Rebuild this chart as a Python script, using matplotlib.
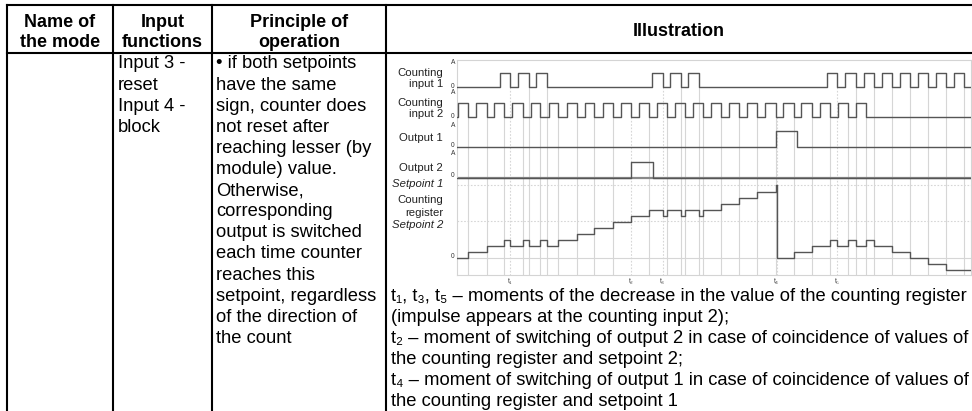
import matplotlib
matplotlib.use('Agg')
import matplotlib.pyplot as plt

plt.rcParams['font.family'] = ['Liberation Sans', 'DejaVu Sans']

# ---- table text
headers = ['Name of\nthe mode', 'Input\nfunctions', 'Principle of\noperation', 'Illustration']
input_functions = ['Input 3 -', 'reset', 'Input 4 -', 'block']
principle = ['• if both setpoints', 'have the same', 'sign, counter does', 'not reset after',
             'reaching lesser (by', 'module) value.', 'Otherwise,', 'corresponding',
             'output is switched', 'each time counter', 'reaches this',
             'setpoint, regardless', 'of the direction of', 'the count']
notes = ['t₁, t₃, t₅ – moments of the decrease in the value of the counting register',
         '(impulse appears at the counting input 2);',
         't₂ – moment of switching of output 2 in case of coincidence of values of',
         'the counting register and setpoint 2;',
         't₄ – moment of switching of output 1 in case of coincidence of values of',
         'the counting register and setpoint 1']

# ---- timing diagram, time measured in periods of counting input 2
in1_rise = [2.31, 3.32, 4.32, 10.74, 11.74, 12.74,
            20.43, 21.43, 22.45, 23.45, 24.45, 25.44, 26.44, 27.44]
in1_fall = [2.88, 3.90, 4.89, 11.32, 12.31, 13.31,
            20.99, 22.00, 23.00, 24.00, 24.99, 25.99, 26.99, 27.98]
in2_rise = [0, 1, 2, 3, 4, 5, 6, 7, 8, 9, 10, 11, 12, 13, 14, 15, 16, 17, 18, 19, 20, 21, 22]
in2_fall = [0.55, 1.57, 2.55, 3.57, 4.52, 5.54, 6.56, 7.53, 8.55, 9.56, 10.56, 11.56,
            12.56, 13.57, 14.56, 15.56, 16.55, 17.57, 18.57, 19.57, 20.56, 21.56, 22.56]
out1_rise, out1_fall = [17.57], [18.77]
out2_rise, out2_fall = [9.56], [10.78]
reg_times = [0.55, 1.57, 2.55, 2.88, 3.57, 3.90, 4.52, 4.89, 5.54, 6.56, 7.53, 8.55,
             9.56, 10.56, 11.32, 11.56, 12.31, 12.56, 13.31, 13.57, 14.56, 15.56, 16.55,
             17.57, 17.63, 18.57, 19.57, 20.56, 20.99, 21.56, 22.00, 22.56, 23.00, 24.00,
             24.99, 25.99, 26.99]
reg_levels = [1, 2, 3, 2, 3, 2, 3, 2, 3, 4, 5, 6,
              7, 8, 7, 8, 7, 8, 7, 8, 9, 10, 11,
              12.2, 0, 1, 2, 3, 2, 3, 2, 3, 2, 1,
              0, -1, -2]
setpoint1 = 12.2
setpoint2 = 6.2
moments = ['t₁', 't₂', 't₃', 't₄', 't₅']
moment_times = [2.88, 9.56, 11.32, 17.63, 20.99]

W, H = 972, 411
fig = plt.figure(figsize=(W / 100, H / 100), dpi=100)
tab = fig.add_axes([0, 0, 1, 1])
tab.set_xlim(0, W)
tab.set_ylim(H, 0)
tab.axis('off')

cols = [7, 113, 212, 386, 972]
lw_tab = 1.5
tab.plot([cols[0], W], [5, 5], color='black', lw=lw_tab)
tab.plot([cols[0], W], [53, 53], color='black', lw=lw_tab)
for x in cols[:-1]:
    tab.plot([x, x], [5, H], color='black', lw=lw_tab)

# headers
for i, h in enumerate(headers):
    xc = (cols[i] + cols[i + 1]) / 2
    lines = h.split('\n')
    if len(lines) == 1:
        tab.text(xc, 36.5, lines[0], ha='center', va='baseline', fontsize=13, fontweight='bold')
    else:
        for j, ln in enumerate(lines):
            tab.text(xc, 26.7 + 20.6 * j, ln, ha='center', va='baseline',
                     fontsize=13, fontweight='bold')

body_fs = 13.2
step = 21.1
base0 = 68.5
for j, ln in enumerate(input_functions):
    tab.text(118, base0 + step * j, ln, ha='left', va='baseline', fontsize=body_fs)
for j, ln in enumerate(principle):
    tab.text(216, base0 + step * j, ln, ha='left', va='baseline', fontsize=body_fs)
for j, ln in enumerate(notes):
    tab.text(391, base0 + step * (11 + j), ln, ha='left', va='baseline', fontsize=body_fs)

# ---- diagram
fl, fr, ft, fb = 457, 971, 60, 275
dg = fig.add_axes([fl / W, 1 - fb / H, (fr - fl) / W, (fb - ft) / H])
t0 = (fl - 458.3) / 18.06
t_end = (fr - 458.3) / 18.06
dg.set_xlim(t0, t_end)
dg.set_ylim(fb, ft)
dg.set_xticks([])
dg.set_yticks([])
for s in dg.spines.values():
    s.set_color('#d4d4d4')
    s.set_linewidth(0.8)

wave = '#555555'
grid = '#d6d6d6'
lanes = {'in1': (87, 14), 'in2': (117, 14), 'out1': (147, 15.5), 'out2': (178, 16)}
reg0, reg_step = 258, 6


def pulses(rises, falls):
    xs, ys = [t0], [0]
    for r, f in zip(rises, falls):
        xs += [r, r, f, f]
        ys += [0, 1, 1, 0]
    xs.append(t_end)
    ys.append(0)
    return xs, ys


# vertical guide lines
for t in in2_fall:
    dotted = t in moment_times
    dg.plot([t, t], [lanes['in2'][0], fb], color=grid, lw=0.8,
            ls=(0, (1.5, 1.5)) if dotted else '-', zorder=1)
for t in in1_fall:
    dotted = t in moment_times
    dg.plot([t, t], [lanes['in1'][0], fb], color=grid, lw=0.8,
            ls=(0, (1.5, 1.5)) if dotted else '-', zorder=1)
dg.plot([moment_times[3]] * 2, [lanes['in2'][0], fb], color=grid, lw=0.8,
        ls=(0, (1.5, 1.5)), zorder=1)

# setpoint and zero lines
for sp in (setpoint1, setpoint2):
    dg.axhline(reg0 - reg_step * sp, color=grid, lw=0.8, ls=(0, (1.5, 1.5)), zorder=1)
dg.axhline(reg0, color=grid, lw=0.8, zorder=1)

for key, (r, f) in {'in1': (in1_rise, in1_fall), 'in2': (in2_rise, in2_fall),
                    'out1': (out1_rise, out1_fall), 'out2': (out2_rise, out2_fall)}.items():
    base, amp = lanes[key]
    xs, ys = pulses(r, f)
    dg.plot(xs, [base - amp * y for y in ys], color=wave, lw=1.0, zorder=3)
dg.axhline(lanes['out2'][0], color='#8a8a8a', lw=1.6, zorder=2)

# counting register
xs, ys = [t0], [0]
prev = 0
for t, v in zip(reg_times, reg_levels):
    xs += [t, t]
    ys += [prev, v]
    prev = v
xs.append(t_end)
ys.append(prev)
dg.plot(xs, [reg0 - reg_step * y for y in ys], color=wave, lw=1.0, zorder=3)

for name, t in zip(moments, moment_times):
    dg.text(t, 281, name, ha='center', va='center', fontsize=5, color='#444444')

# lane labels
lab_fs = 8.2
lx = 443
for txt, yb in [('Counting', 75.5), ('input 1', 87), ('Counting', 105.5), ('input 2', 117),
                ('Output 1', 140.5), ('Output 2', 170.5), ('Counting', 203), ('register', 215.5)]:
    tab.text(lx, yb, txt, ha='right', va='baseline', fontsize=lab_fs, color='#222222')
for txt, yb in [('Setpoint 1', 187), ('Setpoint 2', 228)]:
    tab.text(lx, yb, txt, ha='right', va='baseline', fontsize=lab_fs, style='italic',
             color='#222222')

for yb, s in [(63, 'A'), (86, '0'), (93, 'A'), (116, '0'), (125, 'A'), (145, '0'),
              (153, 'A'), (175, '0'), (256.5, '0')]:
    tab.text(453, yb, s, ha='center', va='center', fontsize=4.8, color='#333333')
for yc in [94, 125, 154, 183, 265]:
    tab.text(967, yc, 't', ha='center', va='center', fontsize=7, color='#333333')

fig.savefig('out.png', dpi=100)
